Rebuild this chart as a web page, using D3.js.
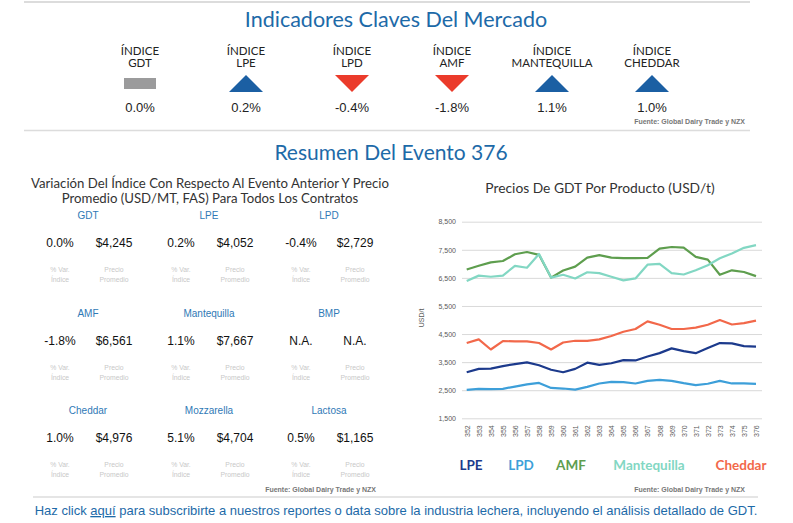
<!DOCTYPE html>
<html><head><meta charset="utf-8">
<script src="https://cdn.jsdelivr.net/npm/d3@7"></script>
<style>
html,body{margin:0;padding:0;background:#fff;}
svg{display:block;}
</style></head>
<body>
<svg id="c" width="793" height="523"></svg>
<script>
// ---- Data ----
const indicatorNames = ["GDT","LPE","LPD","AMF","MANTEQUILLA","CHEDDAR"];
const indicatorChanges = [0.0, 0.2, -0.4, -1.8, 1.1, 1.0];

const productNames = ["GDT","LPE","LPD","AMF","Mantequilla","BMP","Cheddar","Mozzarella","Lactosa"];
const productChanges = ["0.0%","0.2%","-0.4%","-1.8%","1.1%","N.A.","1.0%","5.1%","0.5%"];
const productPrices = ["$4,245","$4,052","$2,729","$6,561","$7,667","N.A.","$4,976","$4,704","$1,165"];

const events = ["352","353","354","355","356","357","358","359","360","361","362","363","364","365","366","367","368","369","370","371","372","373","374","375","376"];
const LPE = [3140,3260,3270,3360,3430,3490,3390,3230,3140,3260,3480,3400,3460,3570,3560,3700,3820,3990,3890,3820,4000,4180,4170,4070,4052];
const LPD = [2510,2550,2540,2550,2630,2710,2760,2580,2560,2520,2620,2740,2800,2790,2740,2830,2870,2830,2750,2680,2730,2830,2740,2740,2729];
const AMF = [6800,6930,7050,7100,7340,7420,7320,6510,6760,6900,7220,7310,7220,7200,7200,7210,7540,7600,7580,7250,7150,6610,6770,6710,6561];
const Mantequilla = [6390,6580,6540,6580,6930,6860,7350,6510,6610,6480,6700,6670,6540,6410,6480,6970,7000,6670,6620,6770,6950,7200,7370,7570,7667];
const Cheddar = [4180,4310,3950,4250,4240,4240,4180,3950,4200,4260,4260,4310,4430,4580,4680,4950,4830,4680,4680,4730,4830,5000,4840,4890,4976];
const yTicks = [1500,2500,3500,4500,5500,6500,7500,8500];
const seriesNames = ["LPE","LPD","AMF","Mantequilla","Cheddar"];
const seriesColors = ["#1c3a8c","#3d9fd9","#5e9e4e","#82d7c3","#f2684a"];

// ---- Drawing ----
const svg = d3.select("#c");
const blue = "#1d6aa8";
const titleFont = "Lato, 'Noto Sans', sans-serif";
const armFont = "'Liberation Sans', Arial, sans-serif";
const pct = v => (v < 0 ? "-" : "") + Math.abs(v).toFixed(1) + "%";

// separator lines
svg.append("line").attr("x1",24).attr("x2",750).attr("y1",2).attr("y2",2).attr("stroke","#dcdcdc").attr("stroke-width",2);
svg.append("line").attr("x1",24).attr("x2",750).attr("y1",130.5).attr("y2",130.5).attr("stroke","#dcdcdc").attr("stroke-width",1.5);
svg.append("line").attr("x1",33).attr("x2",758).attr("y1",497).attr("y2",497).attr("stroke","#dcdcdc").attr("stroke-width",1.5);

svg.append("text").attr("x",396).attr("y",27).attr("text-anchor","middle")
  .attr("font-family",titleFont).attr("font-size",21.5).attr("fill",blue).text("Indicadores Claves Del Mercado");

const indPos = [140,246,352,452,552,652];
const ig = svg.selectAll("g.ind").data(indicatorNames).join("g").attr("class","ind")
  .attr("transform",(d,i)=>`translate(${indPos[i]},0)`);
ig.append("text").attr("y",55).attr("text-anchor","middle").attr("font-family",titleFont)
  .attr("font-size",11.5).attr("fill","#222").text("ÍNDICE");
ig.append("text").attr("y",67).attr("text-anchor","middle").attr("font-family",titleFont)
  .attr("font-size",11.5).attr("fill","#222").text(d=>d);
ig.each(function(d,i){
  const g = d3.select(this), v = indicatorChanges[i];
  if (v === 0) g.append("rect").attr("x",-16).attr("y",78).attr("width",32).attr("height",11).attr("fill","#9b9b9c");
  else if (v > 0) g.append("path").attr("d","M-17,92 L0,75 L17,92 Z").attr("fill","#1b5fa3");
  else g.append("path").attr("d","M-17,75 L17,75 L0,92 Z").attr("fill","#eb3b2b");
  g.append("text").attr("y",112).attr("text-anchor","middle").attr("font-family",armFont)
    .attr("font-size",13).attr("fill","#222").text(pct(v));
});
svg.append("text").attr("x",745).attr("y",124).attr("text-anchor","end").attr("font-family",armFont)
  .attr("font-size",7).attr("font-weight","bold").attr("fill","#777").text("Fuente: Global Dairy Trade y NZX");

svg.append("text").attr("x",391).attr("y",160).attr("text-anchor","middle")
  .attr("font-family",titleFont).attr("font-size",21).attr("fill",blue).text("Resumen Del Evento 376");

svg.append("text").attr("x",210).attr("y",188).attr("text-anchor","middle").attr("font-family",titleFont)
  .attr("font-size",13.2).attr("fill","#333").text("Variación Del Índice Con Respecto Al Evento Anterior Y Precio");
svg.append("text").attr("x",210).attr("y",203).attr("text-anchor","middle").attr("font-family",titleFont)
  .attr("font-size",13.2).attr("fill","#333").text("Promedio (USD/MT, FAS) Para Todos Los Contratos");

// product grid
const colX = [88,209,329], rowY = [219,317,414];
productNames.forEach((name,i)=>{
  const cx = colX[i%3], ry = rowY[Math.floor(i/3)];
  const g = svg.append("g").attr("transform",`translate(${cx},${ry})`);
  g.append("text").attr("text-anchor","middle").attr("font-family",armFont).attr("font-size",10)
    .attr("fill","#2f79b6").text(name);
  g.append("text").attr("x",-28).attr("y",28).attr("text-anchor","middle").attr("font-family",armFont)
    .attr("font-size",12).attr("fill","#111").text(productChanges[i]);
  g.append("text").attr("x",26).attr("y",28).attr("text-anchor","middle").attr("font-family",armFont)
    .attr("font-size",12).attr("fill","#111").text(productPrices[i]);
  [["% Var.","Índice",-28],["Precio","Promedio",26]].forEach(([a,b,x])=>{
    g.append("text").attr("x",x).attr("y",53).attr("text-anchor","middle").attr("font-family",armFont)
      .attr("font-size",6.8).attr("fill","#c8c8c8").text(a);
    g.append("text").attr("x",x).attr("y",63).attr("text-anchor","middle").attr("font-family",armFont)
      .attr("font-size",6.8).attr("fill","#c8c8c8").text(b);
  });
});
svg.append("text").attr("x",376).attr("y",492).attr("text-anchor","end").attr("font-family",armFont)
  .attr("font-size",7).attr("font-weight","bold").attr("fill","#777").text("Fuente:  Global Dairy Trade y NZX");

// ---- Line chart ----
svg.append("text").attr("x",600).attr("y",193).attr("text-anchor","middle").attr("font-family",titleFont)
  .attr("font-size",13.8).attr("fill","#333").text("Precios De GDT Por Producto (USD/t)");

const x = d3.scalePoint().domain(events).range([466.7,756]);
const y = d3.scaleLinear().domain([1500,8500]).range([418.3,221.7]);

const yAxis = svg.append("g").attr("transform","translate(462,0)")
  .call(d3.axisLeft(y).tickValues(yTicks).tickFormat(d3.format(",")).tickSize(-300).tickPadding(6));
yAxis.select(".domain").remove();
yAxis.selectAll(".tick line").attr("stroke","#d9d9d9").attr("stroke-width",1);
yAxis.selectAll(".tick text").attr("font-family",armFont).attr("font-size",7).attr("fill","#595959");

const xAxis = svg.append("g").attr("transform","translate(0,418.3)")
  .call(d3.axisBottom(x).tickSize(0).tickPadding(0));
xAxis.select(".domain").remove();
xAxis.selectAll(".tick text").attr("font-family",armFont).attr("font-size",7).attr("fill","#595959")
  .attr("text-anchor","end").attr("transform","translate(0,5) rotate(-90)").attr("dy","0.35em").attr("y",0).attr("x",-2);

svg.append("text").attr("transform","translate(424,318) rotate(-90)").attr("text-anchor","middle")
  .attr("font-family",armFont).attr("font-size",7).attr("fill","#595959").text("USD/t");

const seriesData = [LPE,LPD,AMF,Mantequilla,Cheddar];
const line = d3.line().x((d,i)=>x(events[i])).y(d=>y(d));
seriesData.forEach((s,k)=>{
  svg.append("path").datum(s).attr("d",line).attr("fill","none")
    .attr("stroke",seriesColors[k]).attr("stroke-width",2.2).attr("stroke-linejoin","round");
});

const legX = [471,521,571,649,741];
seriesNames.forEach((n,k)=>{
  svg.append("text").attr("x",legX[k]).attr("y",470).attr("text-anchor","middle").attr("font-family",titleFont)
    .attr("font-size",13.5).attr("font-weight","bold").attr("fill",seriesColors[k]).text(n);
});
svg.append("text").attr("x",745).attr("y",492).attr("text-anchor","end").attr("font-family",armFont)
  .attr("font-size",7).attr("font-weight","bold").attr("fill","#777").text("Fuente:  Global Dairy Trade y NZX");

// bottom link text
const bt = svg.append("text").attr("x",396).attr("y",515).attr("text-anchor","middle").attr("font-family",armFont)
  .attr("font-size",13).attr("fill",blue);
bt.append("tspan").text("Haz click ");
bt.append("tspan").attr("text-decoration","underline").text("aquí");
bt.append("tspan").text(" para subscribirte a nuestros reportes o data sobre la industria lechera, incluyendo el análisis detallado de GDT.");
</script>
</body></html>
